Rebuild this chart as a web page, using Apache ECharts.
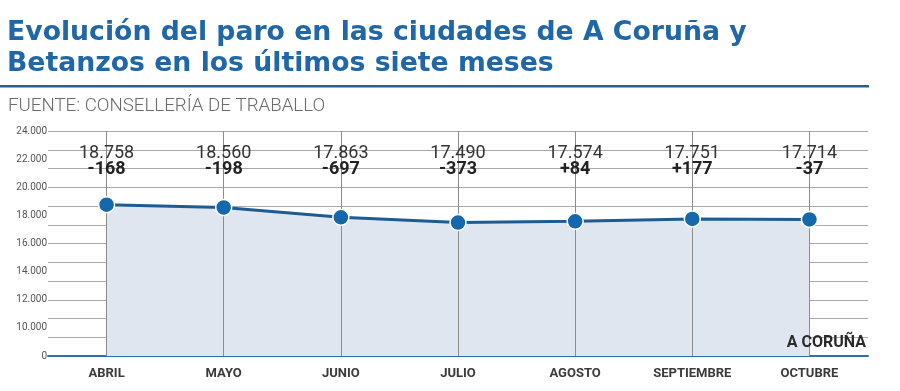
<!DOCTYPE html>
<html>
<head>
<meta charset="utf-8">
<script src="https://cdn.jsdelivr.net/npm/echarts@6/dist/echarts.min.js"></script>
<style>
html,body{margin:0;padding:0;background:#fff;}
#chart{width:900px;height:391px;}
</style>
</head>
<body>
<div id="chart"></div>
<script>
const categories = ['ABRIL', 'MAYO', 'JUNIO', 'JULIO', 'AGOSTO', 'SEPTIEMBRE', 'OCTUBRE'];
const parados = [18758, 18560, 17863, 17490, 17574, 17751, 17714];
const variacion = [-168, -198, -697, -373, 84, 177, -37];
const yMin = 0, yMax = 24000, yInterval = 2000;
const yBreak = { start: 0, end: 10000 };
const titleLines = ['Evolución del paro en las ciudades de A Coruña y', 'Betanzos en los últimos siete meses'];
const sourceText = 'FUENTE: CONSELLERÍA DE TRABALLO';
const cityText = 'A CORUÑA';

function fmt(n) {
  return String(n).replace(/\B(?=(\d{3})+(?!\d))/g, '.');
}
function fmtSigned(n) {
  return (n > 0 ? '+' : '') + String(n);
}

const chart = echarts.init(document.getElementById('chart'), null, { renderer: 'canvas' });
const FONT = 'Roboto, "Noto Sans", sans-serif';
const TITLE_FONT = '"DejaVu Sans", "Open Sans", sans-serif';

chart.setOption({
  animation: false,
  backgroundColor: '#ffffff',
  grid: { left: 48, right: 32, top: 131, bottom: 35 },
  xAxis: {
    type: 'category',
    data: categories,
    boundaryGap: true,
    axisLine: { show: true, lineStyle: { color: '#2f6fab', width: 2 } },
    axisTick: { show: false },
    splitLine: { show: false },
    axisLabel: { color: '#3a3a3a', fontFamily: FONT, fontWeight: 'bold', fontSize: 13, margin: 11 }
  },
  yAxis: [
    {
      type: 'value',
      min: yMin, max: yMax, interval: yInterval,
      breaks: [{ start: yBreak.start, end: yBreak.end, gap: 2000 }],
      breakArea: { show: false },
      axisLine: { show: false },
      axisTick: { show: false },
      splitLine: { show: false },
      axisLabel: {
        color: '#555', fontFamily: FONT, fontSize: 10, margin: 1,
        formatter: v => fmt(v)
      }
    },
    {
      type: 'value',
      min: 0, max: 12, interval: 1,
      axisLine: { show: false },
      axisTick: { show: false },
      axisLabel: { show: false },
      splitLine: { show: true, lineStyle: { color: '#a9a9a9', width: 1 } }
    }
  ],
  series: [
    {
      type: 'line',
      data: parados,
      yAxisIndex: 0,
      z: 1,
      showSymbol: false,
      lineStyle: { width: 0 },
      areaStyle: { color: '#dfe6f0', opacity: 1 },
      silent: true,
      markLine: {
        z: 2,
        silent: true,
        symbol: ['none', 'none'],
        label: { show: false },
        lineStyle: { color: '#8c8c8c', width: 1, type: 'solid' },
        data: categories.map(c => ({ xAxis: c }))
      }
    },
    {
      type: 'line',
      data: parados,
      yAxisIndex: 0,
      z: 3,
      symbol: 'circle',
      symbolSize: 16,
      itemStyle: { color: '#1668ad', borderColor: '#ffffff', borderWidth: 1.5 },
      lineStyle: { color: '#1d5b92', width: 3 },
      label: {
        show: true,
        formatter: p => '{a|' + fmt(p.value) + '}\n{b|' + fmtSigned(variacion[p.dataIndex]) + '}',
        rich: {
          a: { fontFamily: FONT, fontSize: 18, color: '#333', lineHeight: 16, align: 'center' },
          b: { fontFamily: FONT, fontSize: 18, fontWeight: 'bold', color: '#222', lineHeight: 16, align: 'center' }
        }
      },
      labelLayout: () => ({ y: 161, align: 'center', verticalAlign: 'middle' })
    }
  ],
  graphic: [
    { type: 'text', z: 10, left: 7, top: 20, style: { text: titleLines[0], fill: '#1f67a6', font: 'bold 26.7px ' + TITLE_FONT } },
    { type: 'text', z: 10, left: 7, top: 51, style: { text: titleLines[1], fill: '#1f67a6', font: 'bold 26.7px ' + TITLE_FONT } },
    { type: 'rect', z: 10, shape: { x: 0, y: 85, width: 869, height: 2.5 }, style: { fill: '#2b5e8c' } },
    { type: 'text', z: 10, left: 8, top: 97, style: { text: sourceText, fill: '#6a6a6a', font: '300 18.7px ' + FONT } },
    { type: 'text', z: 10, right: 34, top: 335, style: { text: cityText, fill: '#2a2a2a', font: 'bold 16px ' + FONT } }
  ]
});
</script>
</body>
</html>
